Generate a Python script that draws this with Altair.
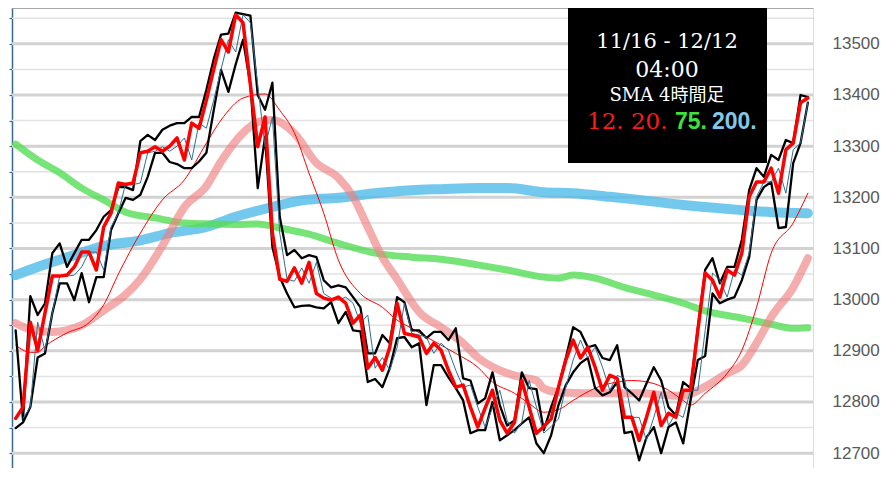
import altair as alt
import pandas as pd

# ---------------- data (4-hour bars, index 0..108) ----------------
bars = list(range(109))
open_v = [12768, 12790, 12956, 12901, 12974, 13046, 13046, 13048, 13064, 13093,
          13093, 13058, 13142, 13169, 13228, 13225, 13228, 13287, 13290, 13299,
          13290, 13300, 13316, 13273, 13345, 13335, 13390, 13450, 13508, 13484,
          13557, 13541, 13420, 13299, 13357, 13130, 13040, 13036, 13062, 13032,
          13073, 13012, 13003, 12999, 13005, 12993, 12954, 12970, 12866, 12887,
          12862, 12907, 12993, 12934, 12931, 12927, 12895, 12915, 12901, 12862,
          12829, 12833, 12790, 12751, 12788, 12823, 12764, 12739, 12760, 12842,
          12790, 12739, 12752, 12767, 12829, 12882, 12921, 12886, 12907, 12868,
          12823, 12852, 12846, 12770, 12770, 12725, 12770, 12819, 12754, 12778,
          12770, 12823, 12823, 12940, 13052, 13038, 13005, 13058, 13048, 13091,
          13201, 13230, 13230, 13257, 13208, 13293, 13306, 13385, 13394]

close_bars = list(range(1, 109))
close_v = [12768, 12790, 12956, 12901, 12974, 13046, 13046, 13048, 13064, 13093,
           13093, 13058, 13142, 13169, 13228, 13225, 13228, 13287, 13290, 13299,
           13290, 13300, 13316, 13273, 13345, 13335, 13390, 13450, 13508, 13484,
           13557, 13541, 13420, 13299, 13357, 13130, 13040, 13036, 13062, 13032,
           13073, 13012, 13003, 12999, 13005, 12993, 12954, 12970, 12866, 12887,
           12862, 12907, 12993, 12934, 12931, 12927, 12895, 12915, 12901, 12862,
           12829, 12833, 12790, 12751, 12788, 12823, 12764, 12739, 12760, 12842,
           12790, 12739, 12752, 12767, 12829, 12882, 12921, 12886, 12907, 12868,
           12823, 12852, 12846, 12770, 12770, 12725, 12770, 12819, 12754, 12778,
           12770, 12823, 12823, 12940, 13052, 13038, 13005, 13058, 13048, 13091,
           13201, 13230, 13230, 13257, 13208, 13293, 13306, 13385]

high_v = [12940, 12765, 13007, 12970, 12993, 13091, 13110, 13064, 13091, 13117,
          13117, 13136, 13162, 13175, 13220, 13220, 13214, 13310, 13322, 13312,
          13332, 13340, 13345, 13345, 13357, 13357, 13410, 13470, 13518, 13520,
          13561, 13558, 13555, 13400, 13371, 13424, 13162, 13087, 13097, 13081,
          13087, 13083, 13038, 13024, 13028, 13024, 13005, 12985, 12895, 12895,
          12931, 12915, 13005, 12995, 12940, 12940, 12925, 12937, 12937, 12921,
          12944, 12846, 12842, 12797, 12807, 12858, 12794, 12754, 12764, 12858,
          12827, 12825, 12745, 12790, 12829, 12886, 12946, 12937, 12907, 12911,
          12886, 12882, 12911, 12829, 12817, 12803, 12836, 12868, 12842, 12790,
          12774, 12839, 12827, 12945, 13058, 13081, 13032, 13064, 13064, 13117,
          13214, 13257, 13240, 13283, 13273, 13312, 13306, 13400, 13396]

low_v = [12749, 12760, 12790, 12887, 12895, 12974, 13032, 13032, 12999, 13052,
         12995, 13044, 13044, 13136, 13169, 13199, 13195, 13205, 13240, 13287,
         13287, 13269, 13265, 13257, 13257, 13270, 13287, 13370, 13449, 13406,
         13460, 13508, 13420, 13218, 13318, 13103, 13044, 13012, 12985, 12988,
         12989, 12985, 12983, 12995, 12954, 12976, 12940, 12938, 12839, 12845,
         12829, 12866, 12925, 12927, 12907, 12915, 12794, 12872, 12872, 12848,
         12827, 12803, 12739, 12745, 12745, 12800, 12725, 12735, 12745, 12758,
         12770, 12719, 12700, 12735, 12794, 12833, 12858, 12876, 12886, 12827,
         12813, 12819, 12839, 12739, 12742, 12686, 12731, 12751, 12700, 12751,
         12760, 12719, 12803, 12882, 12890, 13012, 12993, 13000, 13005, 13038,
         13083, 13195, 13220, 13230, 13140, 13142, 13267, 13306, 13385]

fast_bars = [0, 2, 3, 4, 7, 10, 12, 14, 17, 20, 23, 26, 28, 31, 34, 36, 38, 40, 42,
             44, 47, 50, 52, 54, 56, 60, 63, 65, 68, 70, 72, 74, 76, 79, 82, 84, 87,
             89, 91, 92, 94, 97, 99, 101, 103, 106, 108]
fast_v = [12911, 12897, 12897, 12909, 12935, 12955, 12990, 13050, 13130, 13195,
          13234, 13306, 13351, 13394, 13402, 13370, 13326, 13247, 13169, 13077,
          13012, 12985, 12960, 12944, 12927, 12895, 12868, 12839, 12817, 12797,
          12780, 12785, 12803, 12827, 12839, 12842, 12836, 12823, 12803, 12794,
          12817, 12856, 12901, 12985, 13091, 13150, 13208]

mid_bars = [0, 2, 5, 9, 12, 15, 17, 20, 23, 26, 28, 31, 33, 35, 38, 41, 44, 46, 48,
            50, 52, 54, 55, 58, 61, 63, 66, 69, 71, 72, 74, 78, 82, 85, 89, 91, 94,
            97, 99, 101, 103, 106, 108]
mid_v = [12954, 12942, 12937, 12950, 12979, 13010, 13040, 13105, 13181, 13222,
         13270, 13326, 13347, 13351, 13325, 13267, 13238, 13201, 13142, 13083,
         13040, 12995, 12976, 12946, 12915, 12887, 12862, 12848, 12842, 12826,
         12819, 12817, 12817, 12817, 12813, 12812, 12830, 12856, 12872, 12915,
         12966, 13024, 13081]

ma75_bars = [0, 3, 6, 9, 12, 15, 19, 23, 27, 30, 33, 36, 40, 44, 49, 54, 58, 63, 67,
             72, 74, 76, 79, 83, 87, 91, 94, 99, 103, 106, 108]
ma75_v = [13304, 13273, 13248, 13218, 13195, 13171, 13160, 13150, 13148, 13147,
          13148, 13140, 13128, 13110, 13091, 13083, 13079, 13068, 13058, 13044,
          13042, 13048, 13042, 13024, 13009, 12993, 12978, 12964, 12952, 12944,
          12945]

ma200_bars = [0, 3, 8, 12, 17, 21, 26, 30, 35, 39, 44, 49, 54, 58, 63, 67, 72, 76,
              81, 85, 91, 94, 99, 103, 108]
ma200_v = [13048, 13064, 13087, 13105, 13116, 13130, 13142, 13162, 13181, 13194,
           13199, 13208, 13214, 13216, 13218, 13218, 13210, 13208, 13201, 13195,
           13185, 13181, 13175, 13171, 13169]

grid_major = [12700, 12800, 12900, 13000, 13100, 13200, 13300, 13400, 13500]
grid_minor = [12750, 12850, 12950, 13050, 13150, 13250, 13350, 13450, 13550]
left_ticks = [12700, 12750, 12800, 12850, 12900, 12950, 13000, 13050, 13100,
              13150, 13200, 13250, 13300, 13350, 13400, 13450, 13500, 13550]

title_line1 = "11/16 - 12/12"
title_line2 = "04:00"
title_line3 = "SMA 4時間足"
legend_red = "12. 20."
legend_green = "75."
legend_blue = "200."

# ---------------- chart ----------------
XS = alt.Scale(domain=[-0.5, 108.7], nice=False, zero=False)
YS = alt.Scale(domain=[12671, 13570], nice=False, zero=False)


def line_layer(xs, ys, color, width, opacity=1.0, interp="linear", top_axis=False):
    df = pd.DataFrame({"bar": xs, "price": ys})
    if top_axis:
        xaxis = alt.Axis(orient="top", labels=False, ticks=False, grid=False,
                         domain=True, domainColor="#a8a8a8", domainWidth=1, title=None)
    else:
        xaxis = None
    return alt.Chart(df).mark_line(
        color=color, strokeWidth=width, opacity=opacity, interpolate=interp,
        strokeJoin="round", strokeCap="round"
    ).encode(
        x=alt.X("bar:Q", scale=XS, axis=xaxis),
        y=alt.Y("price:Q", scale=YS, axis=None),
    )


minor = alt.Chart(pd.DataFrame({"level": grid_minor})).mark_rule(
    color="#e2e2e2", strokeWidth=1.5
).encode(
    y=alt.Y("level:Q", scale=YS, axis=alt.Axis(
        orient="left", values=left_ticks, labels=False, ticks=True, tickSize=3,
        tickWidth=1.2, tickColor="#3a6a8c", domain=True, domainColor="#3a6a8c",
        domainWidth=1.5, grid=False, title=None))
)

major = alt.Chart(pd.DataFrame({"level": grid_major})).mark_rule(
    color="#d2d2d2", strokeWidth=3
).encode(
    y=alt.Y("level:Q", scale=YS, axis=alt.Axis(
        orient="right", values=grid_major, labels=True, ticks=False, domain=False,
        grid=False, title=None, labelPadding=19, labelFontSize=17,
        labelColor="#595959", labelFont="Liberation Sans", format="d"))
)

ma200 = line_layer(ma200_bars, ma200_v, "#4fbbe8", 10, 0.8, "monotone")
ma75 = line_layer(ma75_bars, ma75_v, "#55dd55", 7, 0.8, "monotone")
mid = line_layer(mid_bars, mid_v, "#f08080", 8, 0.65, "monotone")
fast = line_layer(fast_bars, fast_v, "#ff0000", 1, 1.0, "monotone")
high = line_layer(bars, high_v, "#000000", 2.3)
low = line_layer(bars, low_v, "#000000", 2.3)
close = line_layer(close_bars, close_v, "#2f6f95", 1)
price = line_layer(bars, open_v, "#ff0000", 3.5, top_axis=True)

box = alt.Chart(pd.DataFrame({"k": [0]})).mark_rect(color="#000000").encode(
    x=alt.value(556), x2=alt.value(755), y=alt.value(0), y2=alt.value(155)
)


def label(txt, x, y, color, size, font, weight="normal", align="center"):
    return alt.Chart(pd.DataFrame({"t": [txt]})).mark_text(
        color=color, fontSize=size, font=font, fontWeight=weight,
        align=align, baseline="middle"
    ).encode(text="t:N", x=alt.value(x), y=alt.value(y))


t1 = label(title_line1, 655, 34, "#ffffff", 21, "DejaVu Serif")
t2 = label(title_line2, 655, 62, "#ffffff", 22, "DejaVu Serif")
t3 = label(title_line3, 655, 88, "#ffffff", 18, "DejaVu Serif, Noto Sans CJK JP")
t4 = label(legend_red, 575, 114, "#ff1a1a", 23, "DejaVu Serif", align="left")
t5 = label(legend_green, 663, 114, "#3ee03e", 23, "Liberation Sans", "bold", "left")
t6 = label(legend_blue, 700, 114, "#80c8ea", 23, "Liberation Sans", "bold", "left")

chart = alt.layer(
    minor, major, box, ma200, ma75, mid, fast, high, low, close, price,
    t1, t2, t3, t4, t5, t6
).resolve_axis(
    x="independent", y="independent"
).properties(
    width=801, height=460, padding=0
).configure_view(stroke=None).configure(background="#ffffff")

chart.save("out.html", embed_options={"renderer": "svg", "actions": False})
